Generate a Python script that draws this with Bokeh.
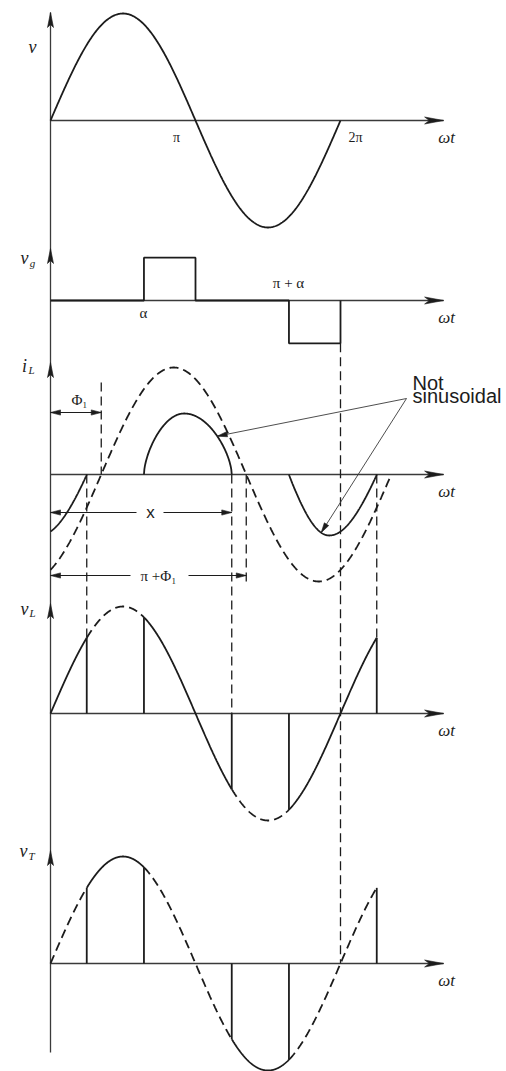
import numpy as np
from bokeh.plotting import figure
from bokeh.models import Range1d
from bokeh.core.properties import value
from bokeh.embed import file_html
from bokeh.resources import INLINE

# ---------------- waveform data (electrical degrees, per-unit values) ----------------
firing_angle = 116                 # alpha
conduction_end = 225               # positive current pulse dies out here
phase_lag = 63                     # Phi_1, lag of the full-conduction current
supply_peak = 1.0                  # envelope of v, v_L, v_T
full_current_peak = 1.0            # dashed i_L (full conduction)
gate_height = 0.40                 # gate pulse amplitude
pulse_start = [firing_angle, 180 + firing_angle]
pulse_end = [conduction_end, 180 + conduction_end]
pulse_peak_angle = [166, 346]
pulse_peak_value = [0.57, -0.57]
pulse_sharpness = [0.6, 0.95]

top_tick_angle = [180, 360]
top_tick_label = ["π", "2π"]
gate_tick_angle = [firing_angle, 180 + firing_angle]
gate_tick_label = ["α", "π + α"]
panel_keys = ["v", "v_g", "i_L", "v_L", "v_T"]
panel_symbol = ["v", "v", "i", "v", "v"]
panel_subscript = ["", "g", "L", "L", "T"]

# ---------------- layout (pixels) ----------------
W, H = 506, 1071
X0 = 50                      # screen x of wt = 0
PX = 290 / 360               # pixels per electrical degree
AMP = 107                    # pixels per unit amplitude
base = {"v": 120, "v_g": 300, "i_L": 474, "v_L": 713, "v_T": 963}
axis_top = {"v": 12, "v_g": 248, "i_L": 362, "v_L": 603, "v_T": 850}
axis_bottom = 1052
axis_end = 488               # degrees, arrow tip of each wt axis

INK = "#1c1c1c"
AXIS = "#3a3a3a"
SERIF = value("Liberation Serif")
SANS = value("Liberation Sans")


def to_px(deg):
    return X0 + np.asarray(deg, dtype=float) * PX


def to_deg(px):
    return (np.asarray(px, dtype=float) - X0) / PX


def sine(th):
    return supply_peak * np.sin(np.radians(th))


def pulse(th, start, peak, end, height, k):
    th = np.asarray(th, dtype=float)
    out = np.zeros_like(th)
    r = (th >= start) & (th <= peak)
    f = (th > peak) & (th <= end)
    out[r] = np.sin(np.pi / 2 * (th[r] - start) / (peak - start)) ** k
    out[f] = np.sin(np.pi / 2 * (end - th[f]) / (end - peak)) ** k
    return height * out


p = figure(width=W, height=H, output_backend="svg", toolbar_location=None,
           x_range=Range1d(float(to_deg(0)), float(to_deg(W))),
           y_range=Range1d(H, 0),
           x_axis_location=None, y_axis_location=None,
           min_border=0, outline_line_color=None,
           background_fill_color="white", border_fill_color="white")
p.grid.visible = False

heads_x, heads_y = [], []


def head(tip_x, tip_y, from_x, from_y, length, half, notch=0.0):
    tx, ty = float(to_px(tip_x)), tip_y
    fx, fy = float(to_px(from_x)), from_y
    d = np.hypot(tx - fx, ty - fy)
    ux, uy = (tx - fx) / d, (ty - fy) / d
    bx, by = tx - ux * length, ty - uy * length
    nx, ny = -uy, ux
    xs = [tx, bx + nx * half, tx - ux * length * (1 - notch), bx - nx * half]
    ys = [ty, by + ny * half, ty - uy * length * (1 - notch), by - ny * half]
    heads_x.append(list(to_deg(xs)))
    heads_y.append(ys)


def seg(th0, th1, func, b, dashed=False, width=1.8, n=200):
    th = np.linspace(th0, th1, n)
    p.line(th, b - AMP * func(th), line_color=INK, line_width=width,
           line_dash="9 5" if dashed else "solid", line_cap="butt")


def vline(th, y0, y1, dashed=False, width=1.8, color=INK):
    p.line([th, th], [y0, y1], line_color=color, line_width=width,
           line_dash="9 5" if dashed else "solid", line_cap="butt")


# ---------------- axes ----------------
p.line([0, 0], [axis_top["v"], axis_bottom], line_color=AXIS, line_width=1.3)
for k in panel_keys:
    p.line([0, axis_end], [base[k], base[k]], line_color=AXIS, line_width=1.3)
    head(axis_end, base[k], 0, base[k], 19, 3.5, notch=0.25)
    head(0, axis_top[k], 0, base[k], 15, 3.0, notch=0.2)

# ---------------- v ----------------
seg(0, 360, sine, base["v"], n=400)

# ---------------- gate pulses ----------------
g_th = [0, gate_tick_angle[0], gate_tick_angle[0], 180, 180,
        gate_tick_angle[1], gate_tick_angle[1], 360, 360]
g_val = np.array([0, 0, gate_height, gate_height, 0, 0, -gate_height, -gate_height, 0])
p.line(g_th, base["v_g"] - AMP * g_val, line_color=INK, line_width=1.8)

# ---------------- inductor current ----------------
seg(0, 360 + phase_lag, lambda t: full_current_peak * np.sin(np.radians(t - phase_lag)),
    base["i_L"], dashed=True, n=600)
for s, pk, e, h, k in zip(pulse_start, pulse_peak_angle, pulse_end,
                          pulse_peak_value, pulse_sharpness):
    seg(s, e, lambda t, s=s, pk=pk, e=e, h=h, k=k: pulse(t, s, pk, e, h, k), base["i_L"])
# tail of the previous negative pulse
tail = (pulse_start[1] - 360, pulse_peak_angle[1] - 360, pulse_end[1] - 360)
seg(0, tail[2], lambda t: pulse(t, *tail, pulse_peak_value[1], pulse_sharpness[1]), base["i_L"])

# ---------------- v_L and v_T ----------------
conducting = [(0, tail[2]), (pulse_start[0], pulse_end[0]), (pulse_start[1], pulse_end[1])]
blocking = [(tail[2], pulse_start[0]), (pulse_end[0], pulse_start[1])]
edges = [tail[2], pulse_start[0], pulse_end[0], pulse_start[1], pulse_end[1]]

for a, b in conducting:
    seg(a, b, sine, base["v_L"])
    seg(a, b, sine, base["v_T"], dashed=True)
for a, b in blocking:
    seg(a, b, sine, base["v_L"], dashed=True)
    seg(a, b, sine, base["v_T"])
for e in edges:
    vline(e, base["v_L"], base["v_L"] - AMP * sine(e))
    vline(e, base["v_T"], base["v_T"] - AMP * sine(e))

# ---------------- projection guides ----------------
vline(phase_lag, 382, base["i_L"], dashed=True, width=1.3)
vline(tail[2], base["i_L"], base["v_L"] - AMP * sine(tail[2]), dashed=True, width=1.3)
vline(pulse_end[0], base["i_L"], base["v_L"], dashed=True, width=1.3)
vline(180 + phase_lag, base["i_L"], 585, dashed=True, width=1.3)
vline(360, base["v_g"] + AMP * gate_height, base["v_T"], dashed=True, width=1.3)
vline(pulse_end[1], base["i_L"], base["v_L"] - AMP * sine(pulse_end[1]), dashed=True, width=1.3)

# ---------------- dimension arrows ----------------
def dimension(y, th_end, gap=None):
    if gap is None:
        p.line([0, th_end], [y, y], line_color=INK, line_width=1.1)
    else:
        p.line([0, gap[0]], [y, y], line_color=INK, line_width=1.1)
        p.line([gap[1], th_end], [y, y], line_color=INK, line_width=1.1)
    head(0, y, th_end, y, 10, 2.6)
    head(th_end, y, 0, y, 10, 2.6)


dimension(412, phase_lag)
dimension(512, pulse_end[0], gap=(float(to_deg(136)), float(to_deg(163))))
dimension(575, 180 + phase_lag, gap=(float(to_deg(130)), float(to_deg(188))))

# ---------------- "Not sinusoidal" leaders ----------------
lead_from = (float(to_deg(406)), 398)
for th, s, pk, e, h, k in [(207, pulse_start[0], pulse_peak_angle[0], pulse_end[0],
                            pulse_peak_value[0], pulse_sharpness[0]),
                           (336, pulse_start[1], pulse_peak_angle[1], pulse_end[1],
                            pulse_peak_value[1], pulse_sharpness[1])]:
    ty = float(base["i_L"] - AMP * pulse(np.array([th]), s, pk, e, h, k)[0])
    p.line([lead_from[0], th], [lead_from[1], ty], line_color=AXIS, line_width=0.9)
    head(th, ty, lead_from[0], lead_from[1], 10, 2.6)

p.patches(heads_x, heads_y, fill_color=INK, line_color=INK, line_width=0.6)

# ---------------- text ----------------
def label(x, y, text, size, font=SERIF, style="italic", align="center",
          baseline="middle", color=INK):
    p.text(x=list(x), y=list(y), text=list(text), text_font=font,
           text_font_style=style, text_font_size=size, text_align=align,
           text_baseline=baseline, text_color=color)


label(to_deg([446] * 5), [base[k] + 17 for k in panel_keys], ["ωt"] * 5, "17px")
label(to_deg([176, 355]), [base["v"] + 17] * 2, top_tick_label, "14px", style="normal")
label(to_deg([143, 288]), [base["v_g"] + 12, base["v_g"] - 18], gate_tick_label, "15px",
      style="normal")
label(to_deg([32, 24, 24, 24, 23]), [46, 257, 365, 608, 850], panel_symbol, "18px")
label(to_deg([0, 32, 31, 32, 31]), [0, 262, 369, 612, 855], panel_subscript, "11px")
label(to_deg([79]), [399], ["Φ₁"], "15px", style="normal")
label(to_deg([158]), [575], ["π +Φ₁"], "15px", style="normal")
label(to_deg([150]), [512], ["x"], "17px", font=SANS, style="normal")
label(to_deg([412, 412]), [382, 395], ["Not", "sinusoidal"], "20px", font=SANS,
      style="normal", align="left", baseline="alphabetic")

open("out.html", "w").write(file_html(p, INLINE))
